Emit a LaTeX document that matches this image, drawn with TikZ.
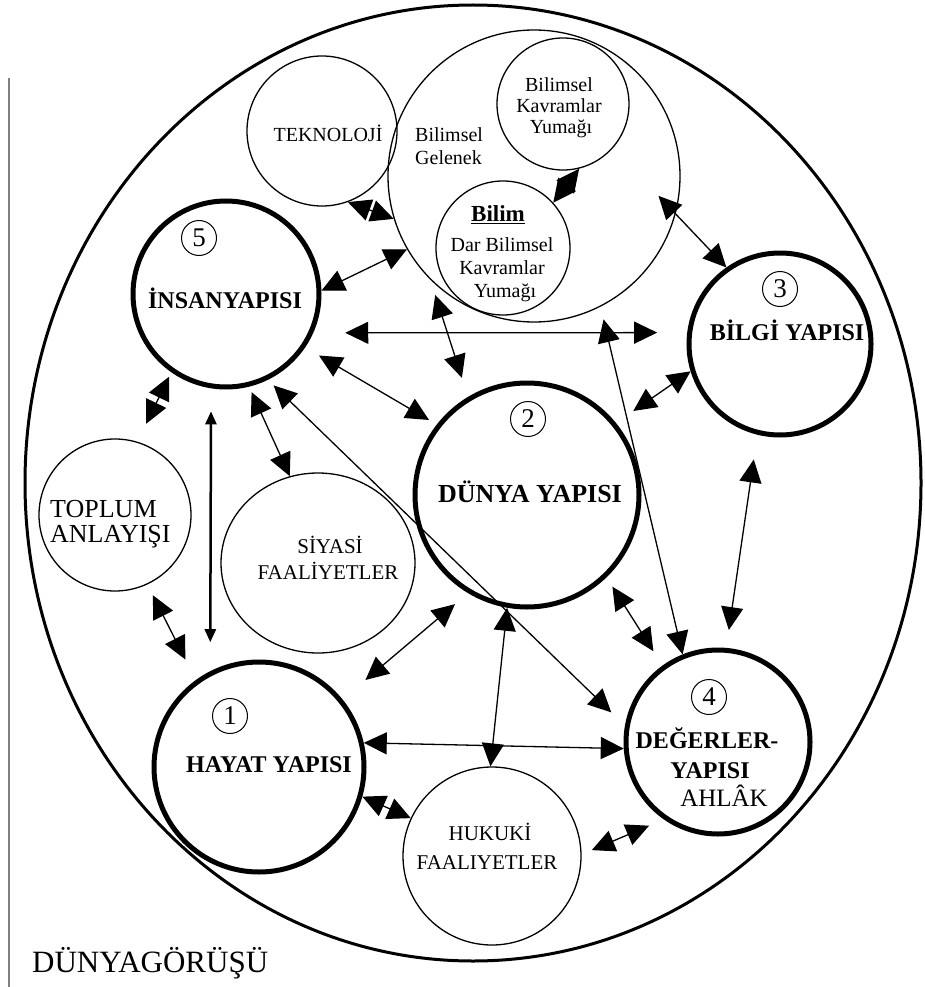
\documentclass[tikz,border=0pt]{standalone}
\usepackage{fontspec}
\setmainfont{Liberation Serif}
\usetikzlibrary{arrows.meta,shapes.geometric}

\begin{document}
\begin{tikzpicture}[x=1pt,y=-1pt,
  bigcirc/.style={circle,draw,line width=5pt,inner sep=0pt},
  smcirc/.style={circle,draw,line width=1.3pt,inner sep=0pt},
  numc/.style={circle,draw,line width=1pt,minimum size=35pt,inner sep=0pt,font=\fontsize{27}{27}\selectfont},
  bigtxt/.style={anchor=base,inner sep=0pt,font=\bfseries\fontsize{24}{26}\selectfont},
  smtxt/.style={anchor=base,inner sep=0pt,font=\fontsize{20}{22}\selectfont},
  midtxt/.style={anchor=base,inner sep=0pt,font=\fontsize{21}{23}\selectfont},
  dbl/.style={{Triangle[length=23pt,width=22pt]}-{Triangle[length=23pt,width=22pt]},line width=1.3pt},
  vdbl/.style={{Triangle[length=13pt,width=11pt]}-{Triangle[length=13pt,width=11pt]},line width=2.5pt}]
\useasboundingbox (0,0) rectangle (924,987);
\draw[gray,line width=2pt] (9,78) -- (9,987);
\draw[line width=3pt] (473,483) ellipse [x radius=448, y radius=478];
% kucuk halkalar
\node[smcirc,minimum size=150pt] (tekno) at (322,131) {};
\node[smcirc,minimum size=292pt] (gelenek) at (534,176) {};
\node[smcirc,minimum size=132pt] (kavram) at (563,104) {};
\node[smcirc,minimum size=134pt] (bilim) at (503,248) {};
\node[smcirc,minimum size=152pt] (toplum) at (115,515) {};
\node[smcirc,ellipse,minimum width=194pt,minimum height=180pt] (siyasi) at (318,563) {};
\node[smcirc,minimum size=178pt] (hukuki) at (492,856) {};
% ana yapilar
\node[bigcirc,minimum size=186pt] (insan) at (226,294) {};
\node[bigcirc,minimum size=224pt] (dunya) at (527,495) {};
\node[bigcirc,minimum size=182pt] (bilgi) at (780,344) {};
\node[bigcirc,minimum size=184pt] (deger) at (718,742) {};
\node[bigcirc,minimum size=210pt] (hayat) at (259,767) {};
\node[numc] (n5) at (199,238) {5};
\node[numc] (n2) at (528,419) {2};
\node[numc] (n3) at (780,289) {3};
\node[numc] (n1) at (230,716) {1};
\node[numc] (n4) at (709,697) {4};
% yazilar
\node[bigtxt] (insan-t) at (225,308) {İNSANYAPISI};
\node[bigtxt,font=\bfseries\fontsize{26}{28}\selectfont] (dunya-t) at (530,502) {DÜNYA YAPISI};
\node[bigtxt] (bilgi-t) at (787,340) {BİLGİ YAPISI};
\node[bigtxt] (hayat-t) at (269,772) {HAYAT YAPISI};
\node[bigtxt] (deger-t1) at (707,748) {DEĞERLER-};
\node[bigtxt] (deger-t2) at (710,778) {YAPISI};
\node[anchor=base,inner sep=0pt,font=\fontsize{25}{27}\selectfont] (deger-t3) at (724,806) {AHLÂK};
\node[smtxt] (tekno-t) at (328,142) {TEKNOLOJİ};
\node[smtxt,anchor=base west] (gelenek-t1) at (415,142) {Bilimsel};
\node[smtxt,anchor=base west] (gelenek-t2) at (415,165) {Gelenek};
\node[smtxt] (kavram-t1) at (559,92) {Bilimsel};
\node[smtxt] (kavram-t2) at (559,113) {Kavramlar};
\node[smtxt] (kavram-t3) at (561,134) {Yumağı};
\node[bigtxt,font=\bfseries\fontsize{23}{25}\selectfont] (bilim-t1) at (498,222) {\underline{Bilim}};
\node[smtxt] (bilim-t2) at (502,251) {Dar Bilimsel};
\node[smtxt] (bilim-t3) at (502,274) {Kavramlar};
\node[smtxt] (bilim-t4) at (505,297) {Yumağı};
\node[anchor=base west,inner sep=0pt,font=\fontsize{26}{28}\selectfont] (toplum-t1) at (50,517) {TOPLUM};
\node[anchor=base west,inner sep=0pt,font=\fontsize{26}{28}\selectfont] (toplum-t2) at (50,542) {ANLAYIŞI};
\node[midtxt] (siyasi-t1) at (330,553) {SİYASİ};
\node[midtxt] (siyasi-t2) at (328,579) {FAALİYETLER};
\node[midtxt] (hukuki-t1) at (490,840) {HUKUKİ};
\node[midtxt] (hukuki-t2) at (487,869) {FAALIYETLER};
\node[anchor=base west,inner sep=0pt,font=\fontsize{31}{33}\selectfont] (baslik) at (32,972) {DÜNYAGÖRÜŞÜ};
% oklar
\draw[dbl] (tekno.-70) -- (gelenek.197);
\draw[dbl] (insan.2) -- (gelenek.210);
\draw[dbl] (kavram.-76) -- (bilim.42);
\draw[dbl,shorten >=-25pt] (bilgi.125) -- (gelenek.-15);
\draw[dbl,shorten <=32pt,shorten >=30pt] (insan.-24) -- (bilgi.173);
\draw[dbl,shorten >=13pt] (deger.112) -- (gelenek.-63);
\draw[dbl,shorten <=20pt,shorten >=16pt] (dunya.121) -- (gelenek.225);
\draw[dbl,shorten <=16pt,shorten >=9pt] (insan.-34) -- (dunya.142);
\draw[dbl,shorten <=21pt] (dunya.39) -- (bilgi.197);
\draw[dbl,shorten <=8pt,shorten >=19pt] (insan.-64) -- (deger.170);
\draw[dbl,shorten <=6pt] (insan.-76) -- (siyasi.108);
\draw[dbl,shorten <=5pt,shorten >=20pt] (insan.235) -- (toplum.73);
\draw[vdbl,shorten <=23pt,shorten >=29pt] (insan.261) -- (hayat.117);
\draw[dbl,shorten <=12pt,shorten >=23pt] (toplum.-65) -- (hayat.126);
\draw[dbl,shorten <=30pt,shorten >=17pt] (hayat.39) -- (dunya.239);
\draw[dbl] (dunya.-100) -- (hukuki.91);
\draw[dbl] (hayat.13) -- (deger.184);
\draw[dbl] (hayat.-16) -- (hukuki.155);
\draw[dbl,shorten <=11pt,shorten >=16pt] (hukuki.1) -- (deger.235);
\draw[dbl,shorten <=11pt,shorten >=17pt] (dunya.-46) -- (deger.126);
\draw[dbl,shorten <=25pt,shorten >=18pt] (bilgi.-104) -- (deger.85);
\end{tikzpicture}
\end{document}
